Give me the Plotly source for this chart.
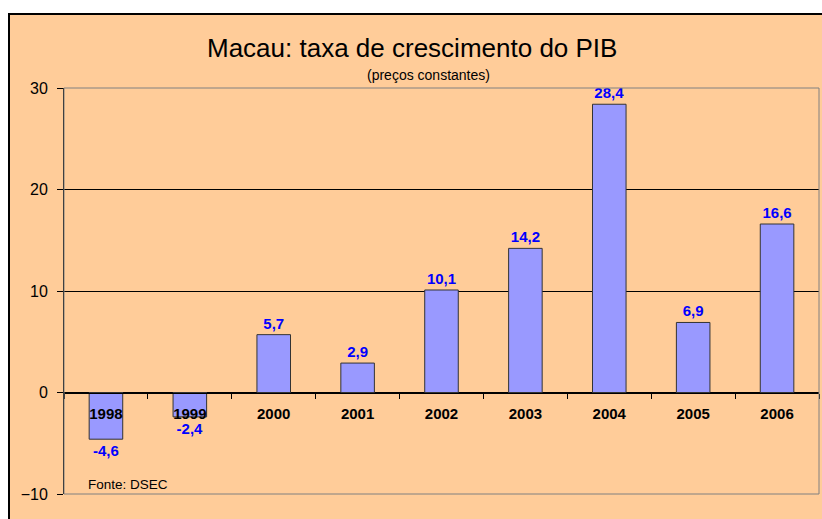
"""Macau: taxa de crescimento do PIB - gráfico de barras estilo Excel."""

import plotly.graph_objects as go

# Dados
YEARS = ["1998", "1999", "2000", "2001", "2002", "2003", "2004", "2005", "2006"]
GROWTH = [-4.6, -2.4, 5.7, 2.9, 10.1, 14.2, 28.4, 6.9, 16.6]
Y_TICKS = [-10, 0, 10, 20, 30]

ORANGE = "#FFCC99"
BAR = "#9999FF"
FONT = "Liberation Sans, Arial, sans-serif"

# a margem do body é anulada no post_script -> figura ocupa a janela toda
W, H = 822, 519
# área do gráfico em coordenadas da página
P_L, P_R, P_T, P_B = 64, 819, 88, 494
L, T = P_L, P_T
R, B = W - P_R, H - P_B
PW, PH = W - L - R, H - T - B


def px_x(x):
    """x da página -> fração do papel"""
    return (x - P_L) / PW


def px_y(y):
    """y da página -> fração do papel"""
    return (P_B - y) / PH


labels = [f"{v:.1f}".replace(".", ",") for v in GROWTH]

fig = go.Figure()
fig.add_trace(go.Bar(
    x=YEARS,
    y=GROWTH,
    text=labels,
    textposition="outside",
    textfont={"family": FONT, "size": 15, "color": "#0000FF", "weight": "bold"},
    cliponaxis=False,
    marker={"color": BAR, "line": {"color": "#333333", "width": 1}},
    hoverinfo="skip",
))

fig.update_layout(
    width=W,
    height=H,
    margin={"l": L, "r": R, "t": T, "b": B},
    paper_bgcolor="white",
    plot_bgcolor="rgba(0,0,0,0)",
    bargap=0.6,
    showlegend=False,
    font={"family": FONT, "size": 16, "color": "black"},
    shapes=[
        # fundo laranja com moldura preta
        {"type": "rect", "xref": "paper", "yref": "paper", "layer": "below",
         "x0": px_x(9), "x1": px_x(840), "y0": px_y(540), "y1": px_y(14),
         "fillcolor": ORANGE, "line": {"color": "black", "width": 2}},
        # contorno cinzento da área do gráfico
        {"type": "rect", "xref": "paper", "yref": "paper", "layer": "above",
         "x0": 0, "x1": 1, "y0": 0, "y1": 1,
         "line": {"color": "#808080", "width": 1}},
    ],
    annotations=[
        {"text": "Macau: taxa de crescimento do PIB", "xref": "paper", "yref": "paper",
         "x": px_x(412), "y": px_y(48), "xanchor": "center", "yanchor": "middle",
         "showarrow": False, "font": {"size": 26, "color": "black"}},
        {"text": "(preços constantes)", "xref": "paper", "yref": "paper",
         "x": px_x(428), "y": px_y(75), "xanchor": "center", "yanchor": "middle",
         "showarrow": False, "font": {"size": 14, "color": "black"}},
        {"text": "Fonte: DSEC", "xref": "paper", "yref": "paper",
         "x": px_x(86), "y": px_y(484), "xanchor": "left", "yanchor": "middle",
         "showarrow": False, "font": {"size": 13.5, "color": "black"}},
    ],
)

fig.update_yaxes(
    range=[-10, 30],
    tickvals=Y_TICKS,
    showgrid=True,
    gridcolor="black",
    gridwidth=1,
    zeroline=False,
    showline=True,
    linecolor="black",
    linewidth=1,
    ticks="outside",
    ticklen=6,
    tickcolor="black",
    tickfont={"size": 16},
    ticklabelstandoff=6,
)

# eixo X posicionado sobre a linha do zero
fig.update_xaxes(
    type="category",
    anchor="free",
    position=0.25,
    showline=True,
    linecolor="black",
    linewidth=1,
    showgrid=False,
    ticks="outside",
    tickson="boundaries",
    ticklen=5,
    tickcolor="black",
    tickfont={"size": 15, "weight": "bold"},
    ticklabelstandoff=7,
)

fig.write_html(
    "out.html",
    config={"displayModeBar": False},
    post_script="document.body.style.margin='0';"
                "document.documentElement.style.overflow='hidden';",
)
